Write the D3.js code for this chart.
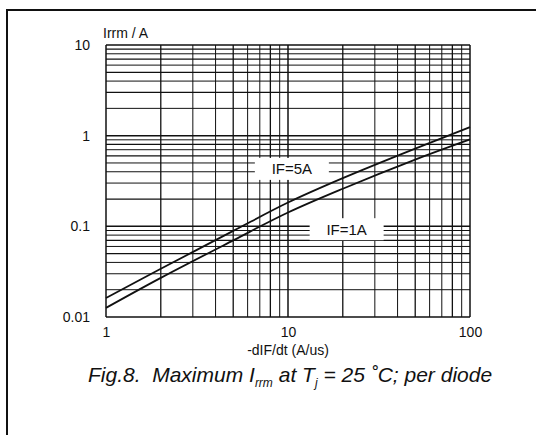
<!DOCTYPE html>
<html>
<head>
<meta charset="utf-8">
<script src="https://cdn.jsdelivr.net/npm/d3@7"></script>
<style>
  body { margin: 0; background: #fff; }
  svg text { font-family: "Liberation Sans", Arial, sans-serif; fill: #111; }
</style>
</head>
<body>
<div id="chart"></div>
<script>
// data
const xTicks = [1, 10, 100];
const yTicks = [0.01, 0.1, 1, 10];
const didt = [1, 2, 5, 10, 20, 50, 100];
const irrm5A = [0.0162, 0.034, 0.089, 0.183, 0.34, 0.72, 1.24];
const irrm1A = [0.0126, 0.027, 0.070, 0.142, 0.26, 0.545, 0.91];
const curveLabels = [
    { text: "IF=5A", x: 10.5, y: 0.43 },
    { text: "IF=1A", x: 21, y: 0.093 }
];

const width = 536, height = 435;
const margin = { left: 106, right: 66, top: 45, bottom: 118 };

const svg = d3.select("#chart").append("svg")
    .attr("width", width)
    .attr("height", height);

// page frame (top + left edges only)
svg.append("path")
    .attr("d", "M7,435 V10 H536")
    .attr("fill", "none")
    .attr("stroke", "#111")
    .attr("stroke-width", 2);

const x = d3.scaleLog().domain([1, 100]).range([margin.left, width - margin.right]);
const y = d3.scaleLog().domain([0.01, 10]).range([height - margin.bottom, margin.top]);

// grid lines 1..9 per decade
let xGrid = [], yGrid = [];
for (let d = 1; d < 100; d *= 10) for (let m = 1; m <= 9; m++) xGrid.push(d * m);
xGrid.push(100);
for (let d = 0.01; d < 10; d *= 10) for (let m = 1; m <= 9; m++) yGrid.push(+(d * m).toPrecision(3));
yGrid.push(10);

const grid = svg.append("g").attr("class", "grid").attr("stroke", "#111");
grid.selectAll("line.v").data(xGrid).enter().append("line")
    .attr("class", "v")
    .attr("x1", d => x(d)).attr("x2", d => x(d))
    .attr("y1", y(10)).attr("y2", y(0.01))
    .attr("stroke-width", (d, i) => (i % 9 === 0 ? 1.5 : (i % 3 === 1 ? 1.3 : 1)));
grid.selectAll("line.h").data(yGrid).enter().append("line")
    .attr("class", "h")
    .attr("y1", d => y(d)).attr("y2", d => y(d))
    .attr("x1", x(1)).attr("x2", x(100))
    .attr("stroke-width", (d, i) => (i % 9 === 0 ? 1.5 : (i % 2 === 0 ? 1.2 : 1)));

// curve labels on white patches (under the curves)
curveLabels.forEach(function (c) {
    const cx = x(c.x), cy = y(c.y);
    svg.append("rect")
        .attr("x", cx - 37).attr("y", cy - 11)
        .attr("width", 74).attr("height", 22)
        .attr("fill", "#fff");
    svg.append("text")
        .attr("x", cx).attr("y", cy)
        .attr("dy", "0.36em")
        .attr("text-anchor", "middle")
        .style("font-size", "15px")
        .text(c.text);
});

// curves
const line = d3.line()
    .x((d, i) => x(didt[i]))
    .y(d => y(d))
    .curve(d3.curveCatmullRom);

[irrm5A, irrm1A].forEach(function (s) {
    svg.append("path")
        .datum(s)
        .attr("d", line)
        .attr("fill", "none")
        .attr("stroke", "#111")
        .attr("stroke-width", 1.8);
});

// axes
const yAxis = d3.axisLeft(y)
    .tickValues(yTicks)
    .tickSize(0)
    .tickPadding(16)
    .tickFormat(d => String(d));
svg.append("g")
    .attr("transform", "translate(" + margin.left + ",0)")
    .call(yAxis)
    .call(g => g.select(".domain").remove())
    .selectAll("text")
    .style("font-size", "14px")
    .style("font-family", "'Liberation Sans', Arial, sans-serif");

const xAxis = d3.axisBottom(x)
    .tickValues(xTicks)
    .tickSize(0)
    .tickPadding(10)
    .tickFormat(d => String(d));
svg.append("g")
    .attr("transform", "translate(0," + (height - margin.bottom) + ")")
    .call(xAxis)
    .call(g => g.select(".domain").remove())
    .selectAll("text")
    .style("font-size", "14px")
    .style("font-family", "'Liberation Sans', Arial, sans-serif");

// axis titles
svg.append("text")
    .attr("x", 103).attr("y", 38)
    .style("font-size", "14px")
    .text("Irrm / A");

svg.append("text")
    .attr("x", x(10)).attr("y", 355)
    .attr("text-anchor", "middle")
    .style("font-size", "14px")
    .text("-dIF/dt (A/us)");

// caption
const cap = svg.append("text")
    .attr("x", 88).attr("y", 382)
    .style("font-size", "21px")
    .style("font-style", "italic");
cap.append("tspan").text("Fig.8.\u00a0\u00a0Maximum I");
cap.append("tspan").attr("dy", 5).style("font-size", "12px").text("rrm");
cap.append("tspan").attr("dy", -5).text(" at T");
cap.append("tspan").attr("dy", 5).style("font-size", "12px").text("j");
cap.append("tspan").attr("dy", -5).text(" = 25 \u02daC; per diode");
</script>
</body>
</html>
